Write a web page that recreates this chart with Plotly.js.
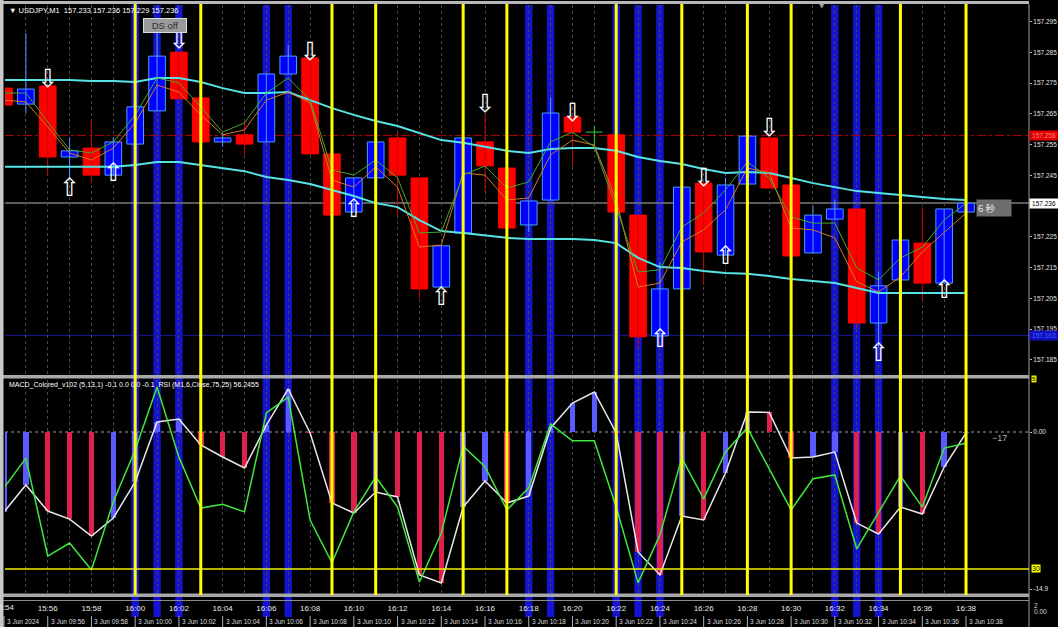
<!DOCTYPE html>
<html><head><meta charset="utf-8">
<script src="https://cdn.plot.ly/plotly-3.0.1.min.js"></script>
<style>html,body{margin:0;padding:0;background:#000;}#chart{width:1058px;height:627px;}</style>
</head><body><div id="chart"></div>
<script>
// ---------------- DATA ----------------
const chartTitle = '\u25BC USDJPY,M1  157.233 157.236 157.229 157.236';
const subTitle = 'MACD_Colored_v102 (5,13,1) -0.1 0.0 0.0 -0.1  RSI (M1,6,Close,75,25) 56.2455';

const times = ['15:54','15:55','15:56','15:57','15:58','15:59','16:00','16:01','16:02','16:03','16:04','16:05','16:06','16:07','16:08','16:09','16:10','16:11','16:12','16:13','16:14','16:15','16:16','16:17','16:18','16:19','16:20','16:21','16:22','16:23','16:24','16:25','16:26','16:27','16:28','16:29','16:30','16:31','16:32','16:33','16:34','16:35','16:36','16:37','16:38'];
const dateLabels = ['3 Jun 2024','3 Jun 09:56','3 Jun 09:58','3 Jun 10:00','3 Jun 10:02','3 Jun 10:04','3 Jun 10:06','3 Jun 10:08','3 Jun 10:10','3 Jun 10:12','3 Jun 10:14','3 Jun 10:16','3 Jun 10:18','3 Jun 10:20','3 Jun 10:22','3 Jun 10:24','3 Jun 10:26','3 Jun 10:28','3 Jun 10:30','3 Jun 10:32','3 Jun 10:34','3 Jun 10:36','3 Jun 10:38'];

const open  = [157.2734,157.2682,157.2741,157.2510,157.2539,157.2451,157.2552,157.2660,157.2851,157.2702,157.2559,157.2582,157.2559,157.2780,157.2832,157.2520,157.2331,157.2442,157.2572,157.2442,157.2087,157.2263,157.2559,157.2474,157.2289,157.2370,157.2640,157.2591,157.2582,157.2321,157.1928,157.2081,157.2425,157.2191,157.2422,157.2572,157.2419,157.2198,157.2308,157.2341,157.1970,157.2110,157.2230,157.2100,157.2331];
const high  = [157.2734,157.2913,157.2741,157.2572,157.2630,157.2575,157.2673,157.2933,157.2851,157.2702,157.2588,157.2630,157.2780,157.2874,157.2832,157.2520,157.2442,157.2559,157.2591,157.2442,157.2221,157.2572,157.2647,157.2474,157.2367,157.2702,157.2640,157.2611,157.2582,157.2321,157.2169,157.2412,157.2425,157.2442,157.2578,157.2572,157.2419,157.2351,157.2370,157.2341,157.2136,157.2240,157.2347,157.2341,157.2360];
const low   = [157.2679,157.2653,157.2451,157.2435,157.2425,157.2451,157.2552,157.2660,157.2699,157.2559,157.2543,157.2517,157.2559,157.2780,157.2520,157.2321,157.2331,157.2442,157.2321,157.2051,157.2087,157.2263,157.2396,157.2279,157.2266,157.2370,157.2478,157.2543,157.2331,157.1889,157.1928,157.2081,157.2094,157.2191,157.2422,157.2409,157.2188,157.2198,157.2308,157.1954,157.1892,157.2110,157.2045,157.2100,157.2331];
const close = [157.2679,157.2731,157.2510,157.2530,157.2451,157.2559,157.2673,157.2838,157.2699,157.2559,157.2572,157.2552,157.2780,157.2838,157.2520,157.2321,157.2442,157.2559,157.2451,157.2081,157.2221,157.2572,157.2481,157.2279,157.2367,157.2653,157.2591,157.2591,157.2331,157.1925,157.2081,157.2412,157.2201,157.2419,157.2578,157.2409,157.2188,157.2321,157.2341,157.1970,157.2091,157.2240,157.2100,157.2341,157.2360];

const upperBand = [157.2760,157.2760,157.2760,157.2760,157.2757,157.2757,157.2754,157.2767,157.2767,157.2754,157.2734,157.2718,157.2718,157.2721,157.2695,157.2669,157.2647,157.2627,157.2611,157.2588,157.2565,157.2556,157.2543,157.2530,157.2523,157.2536,157.2539,157.2539,157.2530,157.2510,157.2497,157.2487,157.2471,157.2458,157.2461,157.2458,157.2442,157.2425,157.2412,157.2399,157.2393,157.2386,157.2380,157.2373,157.2370];
const lowerBand = [157.2478,157.2478,157.2478,157.2478,157.2478,157.2478,157.2484,157.2494,157.2494,157.2484,157.2474,157.2464,157.2445,157.2435,157.2422,157.2403,157.2383,157.2360,157.2347,157.2305,157.2269,157.2263,157.2256,157.2247,157.2243,157.2243,157.2243,157.2240,157.2230,157.2182,157.2152,157.2149,157.2139,157.2133,157.2130,157.2123,157.2113,157.2107,157.2100,157.2084,157.2068,157.2068,157.2068,157.2068,157.2068];
const fastMA = [157.2718,157.2718,157.2624,157.2533,157.2523,157.2559,157.2647,157.2767,157.2751,157.2673,157.2591,157.2621,157.2718,157.2767,157.2695,157.2468,157.2451,157.2500,157.2442,157.2263,157.2266,157.2451,157.2481,157.2409,157.2429,157.2559,157.2591,157.2543,157.2347,157.2136,157.2143,157.2282,157.2328,157.2403,157.2494,157.2442,157.2315,157.2295,157.2295,157.2149,157.2110,157.2182,157.2217,157.2305,157.2360];
const slowMA = [157.2695,157.2689,157.2608,157.2523,157.2500,157.2539,157.2621,157.2744,157.2721,157.2647,157.2582,157.2598,157.2695,157.2721,157.2686,157.2435,157.2412,157.2478,157.2412,157.2217,157.2224,157.2458,157.2451,157.2370,157.2377,157.2517,157.2565,157.2549,157.2370,157.2087,157.2100,157.2234,157.2273,157.2338,157.2474,157.2458,157.2279,157.2273,157.2247,157.2104,157.2071,157.2120,157.2201,157.2266,157.2328];

const macd = [-7.58,-5.02,-7.49,-8.25,-9.86,-8.15,-4.74,0.95,1.23,-1.23,-2.37,-3.41,0.66,4.08,-0.09,-6.73,-7.68,-5.69,-6.16,-13.55,-14.31,-7.11,-4.64,-6.73,-6.07,0.38,2.75,3.79,-0.09,-11.37,-13.55,-7.96,-8.34,-3.89,1.90,1.85,-2.46,-2.37,-1.90,-8.63,-9.67,-7.11,-7.77,-3.32,-0.09];
const rsi  = [46.9,53.1,32.7,35.4,29.8,44.0,54.8,67.9,53.3,42.7,43.5,41.9,62.5,65.8,40.2,31.3,41.9,49.2,42.9,27.3,37.5,55.6,51.3,42.3,46.9,60.2,56.7,56.7,42.9,27.1,37.1,53.1,44.6,54.4,59.4,51.0,42.3,48.8,49.6,34.2,41.9,49.4,42.9,55.2,56.2];

const yellowBars = ['16:00','16:03','16:09','16:11','16:15','16:17','16:22','16:25','16:28','16:30','16:35','16:38'];
const blueBars   = ['16:00','16:01','16:02','16:06','16:07','16:18','16:19','16:22','16:23','16:24','16:32','16:33','16:34'];

const downArrowTimes  = ['15:56','16:02','16:08','16:16','16:20','16:26','16:29'];
const downArrowPrices = [157.2757,157.2884,157.2845,157.2676,157.2647,157.2435,157.2598];
const upArrowTimes    = ['15:57','15:59','16:10','16:14','16:24','16:27','16:34','16:37'];
const upArrowPrices   = [157.2403,157.2451,157.2334,157.2048,157.1912,157.2182,157.1866,157.2071];

const priceTicks = [157.185,157.195,157.205,157.215,157.225,157.235,157.245,157.255,157.265,157.275,157.285,157.295];
const stopLevel = 157.258, bidLevel = 157.236, lowLevel = 157.193;
const rsiLevel = 30, macdMin = -14.9;

// ---------------- BUILD ----------------
const N = times.length;
const idx = times.map((_, i) => i);
const pos = t => times.indexOf(t);
const H = 627, W = 1024;
const py = p => 1 - p / H;          // layout helper: pixel -> paper y
const pxX = p => (p - 5) / W;       // layout helper: pixel -> paper x
const xr = [0.0457, 46.88];
const idxToPaper = i => (i - xr[0]) / (xr[1] - xr[0]);

const BLUE = '#0000ff', BLUE_EDGE = '#4d9bff', RED = '#ff0000', RED_WICK = '#d00000', DOJI = '#2ecc2e';

const upI = [], dnI = [], djI = [];
close.forEach((c, i) => { if (c > open[i]) upI.push(i); else if (c < open[i]) dnI.push(i); else djI.push(i); });

function wickTrace(list, color) {
  const x = [], y = [];
  list.forEach(i => { x.push(i, i, null); y.push(high[i], low[i], null); });
  return {type:'scatter', mode:'lines', x, y, line:{color, width:1}, xaxis:'x', yaxis:'y', hoverinfo:'skip'};
}
function bodyTrace(list, fill, edge) {
  return {type:'bar', x:list, base:list.map(i => Math.min(open[i], close[i])),
    y:list.map(i => Math.abs(close[i] - open[i])), width:0.76,
    marker:{color:fill, line:{color:edge, width:1}}, xaxis:'x', yaxis:'y', hoverinfo:'skip'};
}
const dojiX = [], dojiY = [];
djI.forEach(i => { dojiX.push(i - 0.38, i + 0.38, null); dojiY.push(close[i], close[i], null); });

const arrowFont = {family:'DejaVu Sans', size:25, color:'#ffffff'};
const traces = [
  wickTrace(upI, BLUE_EDGE), wickTrace(dnI, RED_WICK), wickTrace(djI, DOJI),
  bodyTrace(upI, BLUE, BLUE_EDGE), bodyTrace(dnI, RED, RED),
  {type:'scatter', mode:'lines', x:dojiX, y:dojiY, line:{color:DOJI, width:1}, xaxis:'x', yaxis:'y', hoverinfo:'skip'},
  {type:'scatter', mode:'lines', x:idx, y:upperBand, line:{color:'#56e3e6', width:2}, xaxis:'x', yaxis:'y'},
  {type:'scatter', mode:'lines', x:idx, y:lowerBand, line:{color:'#56e3e6', width:2}, xaxis:'x', yaxis:'y'},
  {type:'scatter', mode:'lines', x:idx, y:slowMA, line:{color:'#d27a25', width:1}, xaxis:'x', yaxis:'y'},
  {type:'scatter', mode:'lines', x:idx, y:fastMA, line:{color:'#45a82a', width:1}, xaxis:'x', yaxis:'y'},
  {type:'scatter', mode:'text', x:downArrowTimes.map(pos), y:downArrowPrices, text:downArrowTimes.map(() => '\u21E9'),
    textfont:arrowFont, xaxis:'x', yaxis:'y', cliponaxis:false},
  {type:'scatter', mode:'text', x:upArrowTimes.map(pos), y:upArrowPrices, text:upArrowTimes.map(() => '\u21E7'),
    textfont:arrowFont, xaxis:'x', yaxis:'y', cliponaxis:false},
  // MACD histogram
  {type:'bar', x:idx, y:macd, width:0.25, xaxis:'x2', yaxis:'y2', hoverinfo:'skip',
    marker:{color:macd.map((v, i) => (i === 0 || v >= macd[i - 1]) ? '#5a5aff' : '#e0204c')}},
  {type:'scatter', mode:'lines', x:idx, y:macd, line:{color:'#e8e8e8', width:1.5}, xaxis:'x2', yaxis:'y2'},
  {type:'scatter', mode:'lines', x:idx, y:rsi, line:{color:'#3ee83e', width:1.5}, xaxis:'x2', yaxis:'y3'}
];

const shapes = [];
blueBars.forEach(t => shapes.push({type:'rect', xref:'x', yref:'paper', x0:pos(t) - 0.17, x1:pos(t) + 0.17,
  y0:py(617), y1:py(5), fillcolor:'#1414d0', line:{width:0}, layer:'below'}));
shapes.push({type:'line', xref:'paper', yref:'y', x0:0, x1:1, y0:stopLevel, y1:stopLevel, line:{color:'#b00000', width:1, dash:'dashdot'}, layer:'below'});
shapes.push({type:'line', xref:'paper', yref:'y', x0:0, x1:1, y0:bidLevel, y1:bidLevel, line:{color:'#7a7a7a', width:1.5}, layer:'below'});
shapes.push({type:'line', xref:'paper', yref:'y', x0:0, x1:1, y0:lowLevel, y1:lowLevel, line:{color:'#1a1a9a', width:1}, layer:'below'});
shapes.push({type:'line', xref:'paper', yref:'y2', x0:0, x1:1, y0:0, y1:0, line:{color:'#a0a0a0', width:1, dash:'dot'}, layer:'below'});
shapes.push({type:'rect', xref:'paper', yref:'paper', x0:pxX(0), x1:pxX(1029), y0:py(4), y1:py(1), fillcolor:'#b8b8b8', line:{width:0}, layer:'above'});
shapes.push({type:'rect', xref:'paper', yref:'paper', x0:pxX(0), x1:1, y0:py(378.5), y1:py(375), fillcolor:'#a8a8a8', line:{width:0}, layer:'above'});
shapes.push({type:'rect', xref:'paper', yref:'paper', x0:pxX(0), x1:1, y0:py(597), y1:py(593.5), fillcolor:'#a8a8a8', line:{width:0}, layer:'above'});
shapes.push({type:'line', xref:'paper', yref:'paper', x0:pxX(0), x1:1, y0:py(600.5), y1:py(600.5), line:{color:'#8a8a8a', width:1}, layer:'above'});
shapes.push({type:'line', xref:'paper', yref:'paper', x0:1, x1:1, y0:0, y1:py(4), line:{color:'#a0a0a0', width:1}, layer:'above'});
shapes.push({type:'line', xref:'paper', yref:'y3', x0:0, x1:1, y0:rsiLevel, y1:rsiLevel, line:{color:'#f0f000', width:1.5}, layer:'above'});
yellowBars.forEach(t => shapes.push({type:'line', xref:'x', yref:'paper', x0:pos(t), x1:pos(t),
  y0:py(595), y1:py(4), line:{color:'#ffff00', width:3}, layer:'above'}));
idx.filter(i => i % 2 === 0).forEach(i => shapes.push({type:'line', xref:'paper', yref:'paper', x0:idxToPaper(i), x1:idxToPaper(i),
  y0:0, y1:py(616), line:{color:'#b0b0b0', width:1}, layer:'above'}));
shapes.push({type:'rect', xref:'paper', yref:'paper', x0:pxX(0), x1:pxX(3.5), y0:0, y1:1, fillcolor:'#c8c8c8', line:{width:0}, layer:'above'});

const F = 'Liberation Sans, Arial, sans-serif';
const annotations = [
  {xref:'paper', yref:'paper', x:pxX(7), y:py(10.5), xanchor:'left', yanchor:'middle', showarrow:false,
    text:chartTitle, font:{family:F, size:7.5, color:'#ffffff'}},
  {xref:'paper', yref:'paper', x:pxX(7), y:py(385), xanchor:'left', yanchor:'middle', showarrow:false,
    text:subTitle, font:{family:F, size:7, color:'#ffffff'}},
  {xref:'paper', yref:'paper', x:pxX(165), y:py(25.5), xanchor:'center', yanchor:'middle', showarrow:false,
    text:'DS off', font:{family:F, size:9.5, color:'#303030'}, bgcolor:'#9a9a9a', bordercolor:'#dcdcdc', borderwidth:1, borderpad:1, width:40},
  {xref:'paper', yref:'paper', x:pxX(976), y:py(208), xanchor:'left', yanchor:'middle', showarrow:false,
    text:'6 \u79D2', font:{family:'Noto Sans CJK JP, sans-serif', size:9.5, color:'#e8e8e8'}, bgcolor:'#6e6e6e', borderpad:1, width:32, align:'left'},
  {xref:'paper', yref:'y', x:1, y:stopLevel, xanchor:'left', yanchor:'middle', showarrow:false,
    text:stopLevel.toFixed(3), font:{family:F, size:6.5, color:'#ff8080'}, bgcolor:'#e00000', borderpad:1, width:26},
  {xref:'paper', yref:'y', x:1, y:bidLevel, xanchor:'left', yanchor:'middle', showarrow:false,
    text:bidLevel.toFixed(3), font:{family:F, size:6.5, color:'#000000'}, bgcolor:'#ffffff', borderpad:1, width:26},
  {xref:'paper', yref:'y', x:1, y:lowLevel, xanchor:'left', yanchor:'middle', showarrow:false,
    text:lowLevel.toFixed(3), font:{family:F, size:6.5, color:'#4060ff'}, bgcolor:'#1010c0', borderpad:1, width:26},
  {xref:'paper', yref:'y3', x:1, y:rsiLevel, xanchor:'left', yanchor:'middle', showarrow:false, xshift:2,
    text:String(rsiLevel), font:{family:F, size:7, color:'#000000'}, bgcolor:'#ffff00', borderpad:0},
  {xref:'paper', yref:'paper', x:1, y:py(379), xanchor:'left', yanchor:'middle', showarrow:false, xshift:2,
    text:'5', font:{family:F, size:6, color:'#000000'}, bgcolor:'#e8e800', borderpad:0},
  {xref:'x2', yref:'y2', x:45.1, y:-0.6, xanchor:'left', yanchor:'middle', showarrow:false,
    text:'\u221217', font:{family:F, size:9, color:'#b0b0b0'}},
  {xref:'paper', yref:'paper', x:1, y:py(605), xanchor:'left', yanchor:'middle', showarrow:false, xshift:3,
    text:'2', font:{family:F, size:6.5, color:'#d0d0d0'}},
  {xref:'paper', yref:'paper', x:1, y:py(611), xanchor:'left', yanchor:'middle', showarrow:false, xshift:3,
    text:'0.00', font:{family:F, size:6.5, color:'#d0d0d0'}},
  {xref:'paper', yref:'paper', x:pxX(822), y:py(6), xanchor:'center', yanchor:'middle', showarrow:false,
    text:'\u25BC', font:{family:'DejaVu Sans', size:7, color:'#a0a0a0'}},
  // first time label lies left of the visible range, placed on paper
  {xref:'paper', yref:'paper', x:idxToPaper(0), y:py(607.5), xanchor:'center', yanchor:'middle', showarrow:false,
    text:times[0], font:{family:F, size:8, color:'#e8e8e8'}}
];
dateLabels.forEach((s, k) => annotations.push({xref:'paper', yref:'paper', x:idxToPaper(2 * k), y:py(621.5), xanchor:'left', yanchor:'middle',
  xshift:1, showarrow:false, text:s, font:{family:F, size:6.5, color:'#dcdcdc'}}));

const gridX = {type:'linear', range:xr, tickvals:idx, showgrid:true, gridcolor:'#454545', griddash:'dot', gridwidth:1,
  zeroline:false, showline:false, ticks:'', fixedrange:true};

const layout = {
  width:1058, height:627, paper_bgcolor:'#000000', plot_bgcolor:'#000000',
  margin:{l:5, r:29, t:0, b:0}, showlegend:false, barmode:'overlay', bargap:0,
  font:{family:F, color:'#ffffff'},
  xaxis:Object.assign({}, gridX, {anchor:'y', showticklabels:false}),
  xaxis2:Object.assign({}, gridX, {anchor:'y2', ticktext:times.map((t, i) => i % 2 === 0 ? t : ''),
    tickfont:{family:F, size:8, color:'#e8e8e8'}, ticklabelstandoff:8}),
  yaxis:{domain:[py(375), py(5)], range:[157.18010, 157.30043], side:'right', anchor:'x',
    tickvals:priceTicks, ticktext:priceTicks.map(v => v.toFixed(3)), ticks:'outside', ticklen:2, tickcolor:'#c0c0c0',
    tickfont:{family:F, size:6.5, color:'#e0e0e0'}, showgrid:false, zeroline:false, showline:false, fixedrange:true},
  yaxis2:{domain:[py(594), py(380)], range:[-15.355, 4.929], side:'right', anchor:'x2',
    tickvals:[0, macdMin], ticktext:['0.00', macdMin.toFixed(1)], ticks:'outside', ticklen:2, tickcolor:'#c0c0c0',
    tickfont:{family:F, size:6.5, color:'#e0e0e0'}, showgrid:false, zeroline:false, showline:false, fixedrange:true},
  yaxis3:{overlaying:'y2', range:[24.79, 69.375], side:'right', anchor:'x2', visible:false, fixedrange:true},
  shapes, annotations
};

Plotly.newPlot('chart', traces, layout, {staticPlot:true, displayModeBar:false});
</script></body></html>
